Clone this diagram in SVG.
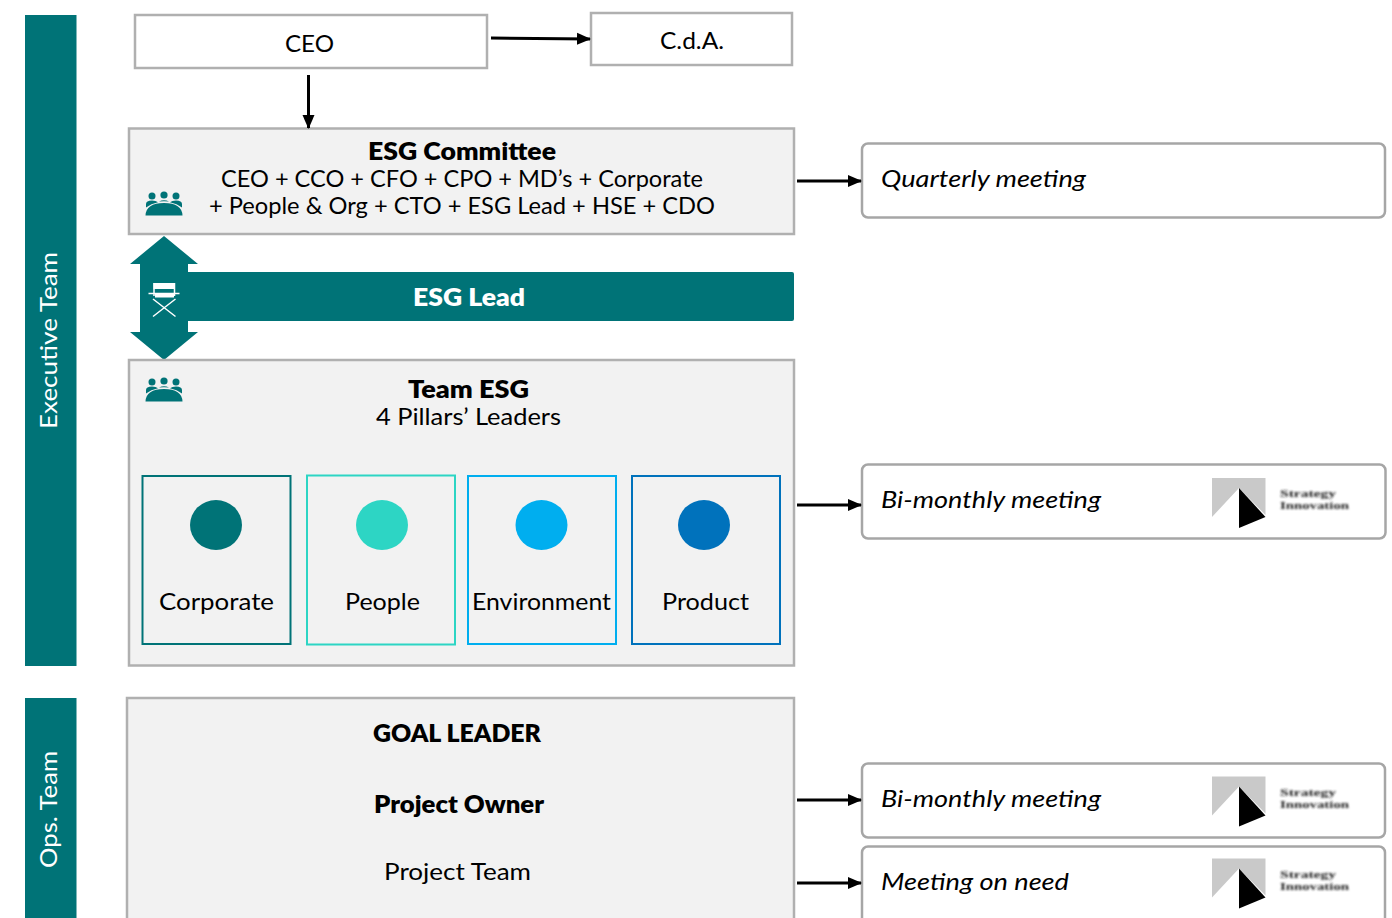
<svg xmlns="http://www.w3.org/2000/svg" xmlns:xlink="http://www.w3.org/1999/xlink" width="1392" height="918" viewBox="0 0 1392 918">
<style>
text{font-family:"Lato","Noto Sans","Liberation Sans",sans-serif;fill:#000;font-size:24px;text-anchor:middle}
.b{font-weight:800}
.i{font-style:italic;text-anchor:start}
.w{fill:#fff}
.box{fill:#fff;stroke:#b0b0b0;stroke-width:2.5}
.grey{fill:#f2f2f2;stroke:#b0b0b0;stroke-width:2.5}
.mt{fill:#fff;stroke:#a6a6a6;stroke-width:2.5}
.teal{fill:#007377}
.conn{stroke:#000;stroke-width:3;fill:none;marker-end:url(#a)}
.p{fill:#f2f2f2;stroke-width:2}
.lt{font-family:"Liberation Serif",serif;font-weight:700;font-size:10px;text-anchor:start;fill:#222;filter:url(#bl)}
</style>
<defs>
<marker id="a" markerUnits="userSpaceOnUse" markerWidth="14" markerHeight="14" refX="13" refY="7" orient="auto"><path d="M0,1 L14,7 L0,13 Z" fill="#000"/></marker>
<filter id="bl" x="-10%" y="-30%" width="120%" height="160%"><feGaussianBlur stdDeviation="0.9"/></filter>
<g id="ppl"><circle cx="-12" cy="-8" r="3.500"/><circle cx="0" cy="-9" r="3.600"/><circle cx="12" cy="-8" r="3.500"/><path d="M-18,3.500 V0 Q-18,-3.500 -12,-3.500 Q-8,-3.500 -6,-1.800 Q-13,-0.500 -18,3.500 Z M18,3.500 V0 Q18,-3.500 12,-3.500 Q8,-3.500 6,-1.800 Q13,-0.500 18,3.500 Z M-5,-2.500 Q0,-5 5,-2.500 Q0,-3 -5,-2.500 Z M-18.500,11.500 Q-18,-1 0,-1 Q18,-1 18.500,11.500 Z"/></g>
<g id="logo"><path d="M1212,478 H1265.500 V515 L1239,488 L1212,517 Z" fill="#c9c9c9"/><path d="M1239,488 L1265.500,517 L1239,528 Z" fill="#000"/><text class="lt" x="1280" y="497" textLength="56" lengthAdjust="spacingAndGlyphs">Strategy</text><text class="lt" x="1280" y="509" textLength="69" lengthAdjust="spacingAndGlyphs">Innovation</text></g>
</defs>
<rect width="1392" height="918" fill="#fff"/>
<g id="executive-team"><rect class="teal" x="25" y="15" width="51.500" height="651"/><text class="w" transform="translate(57,340.500) rotate(-90)" textLength="177" lengthAdjust="spacingAndGlyphs">Executive Team</text></g>
<g id="ops-team"><rect class="teal" x="25" y="698" width="51.500" height="220"/><text class="w" transform="translate(57,809.500) rotate(-90)" textLength="117" lengthAdjust="spacingAndGlyphs">Ops. Team</text></g>
<g id="ceo"><rect class="box" x="135" y="15" width="352" height="53"/><text x="309.500" y="52" textLength="49" lengthAdjust="spacingAndGlyphs">CEO</text></g>
<g id="cda"><rect class="box" x="591" y="13" width="201" height="52"/><text x="692" y="49" textLength="64" lengthAdjust="spacingAndGlyphs">C.d.A.</text></g>
<g id="esg-committee"><rect class="grey" x="129" y="128.500" width="665" height="105.500"/>
<text class="b" x="462" y="160" textLength="188" lengthAdjust="spacingAndGlyphs">ESG Committee</text><text x="462" y="187" textLength="482" lengthAdjust="spacingAndGlyphs">CEO + CCO + CFO + CPO + MD’s + Corporate</text><text x="462" y="214" textLength="506" lengthAdjust="spacingAndGlyphs">+ People &amp; Org + CTO + ESG Lead + HSE + CDO</text>
<use xlink:href="#ppl" href="#ppl" x="164" y="204" class="teal"/></g>
<g id="esg-lead"><path class="teal" d="M164,236 L198,264 H188 V272 H792 Q794,272 794,274 V319 Q794,321 792,321 H188 V332 H198 L164,360 L130,332 H140 V264 H130 Z"/>
<text class="b w" x="469" y="306" textLength="112" lengthAdjust="spacingAndGlyphs">ESG Lead</text>
<g fill="none" stroke="#fff" stroke-width="1.500"><path d="M148.500,293.500 H179.500 M154,283 V296 M174.500,283 V296 M153,316.500 L175.500,299 M175.500,316.500 L153,299"/></g><path d="M153.500,283 H175 V289 H153.500 Z M155,294 H174 V297.500 H155 Z" fill="#fff"/></g>
<g id="team-esg"><rect class="grey" x="129" y="360" width="665" height="305.500"/><text class="b" x="468.500" y="398" textLength="121" lengthAdjust="spacingAndGlyphs">Team ESG</text><text x="468.500" y="425" textLength="185" lengthAdjust="spacingAndGlyphs">4 Pillars’ Leaders</text><use xlink:href="#ppl" href="#ppl" x="164" y="390" class="teal"/></g>
<g id="corporate"><rect class="p" x="142.500" y="476" width="148" height="168" stroke="#007377"/><ellipse cx="216" cy="525" rx="26" ry="25" fill="#007377"/><text x="216.500" y="610" textLength="115" lengthAdjust="spacingAndGlyphs">Corporate</text></g>
<g id="people"><rect class="p" x="307" y="475.500" width="148" height="169" stroke="#2dd5c4"/><ellipse cx="382" cy="525" rx="26" ry="25" fill="#2dd5c4"/><text x="382.500" y="610" textLength="75" lengthAdjust="spacingAndGlyphs">People</text></g>
<g id="environment"><rect class="p" x="468" y="476" width="148" height="168" stroke="#00aeef"/><ellipse cx="541.500" cy="525" rx="26" ry="25" fill="#00aeef"/><text x="541.500" y="610" textLength="139" lengthAdjust="spacingAndGlyphs">Environment</text></g>
<g id="product"><rect class="p" x="632" y="476" width="148" height="168" stroke="#0072bc"/><ellipse cx="704" cy="525" rx="26" ry="25" fill="#0072bc"/><text x="705.500" y="610" textLength="87" lengthAdjust="spacingAndGlyphs">Product</text></g>
<g id="ops-box"><rect class="grey" x="127" y="698" width="667" height="225"/><text class="b" x="457" y="742" textLength="168" lengthAdjust="spacingAndGlyphs">GOAL LEADER</text><text class="b" x="459" y="813" textLength="170" lengthAdjust="spacingAndGlyphs">Project Owner</text><text x="457.500" y="880" textLength="147" lengthAdjust="spacingAndGlyphs">Project Team</text></g>
<g id="quarterly"><rect class="mt" x="862" y="143.500" width="523" height="74" rx="6"/><text class="i" x="881" y="187" textLength="205" lengthAdjust="spacingAndGlyphs">Quarterly meeting</text></g>
<g id="bimonthly-1"><rect class="mt" x="862" y="464.500" width="523.500" height="74" rx="6"/><text class="i" x="881" y="508" textLength="220" lengthAdjust="spacingAndGlyphs">Bi-monthly meeting</text><use xlink:href="#logo" href="#logo"/></g>
<g id="bimonthly-2"><rect class="mt" x="862" y="763.500" width="523" height="74" rx="6"/><text class="i" x="881" y="807" textLength="220" lengthAdjust="spacingAndGlyphs">Bi-monthly meeting</text><use xlink:href="#logo" href="#logo" y="298.500"/></g>
<g id="on-need"><rect class="mt" x="862" y="846.500" width="523" height="90" rx="6"/><text class="i" x="881" y="890" textLength="188" lengthAdjust="spacingAndGlyphs">Meeting on need</text><use xlink:href="#logo" href="#logo" y="380.500"/></g>
<g id="connectors">
<path class="conn" d="M491,38 L590,39"/><path class="conn" d="M308.500,75 V128"/><path class="conn" d="M797,181 H861"/><path class="conn" d="M797,505 H861"/><path class="conn" d="M797,800 H861"/><path class="conn" d="M797,883 H861"/>
</g>
</svg>
